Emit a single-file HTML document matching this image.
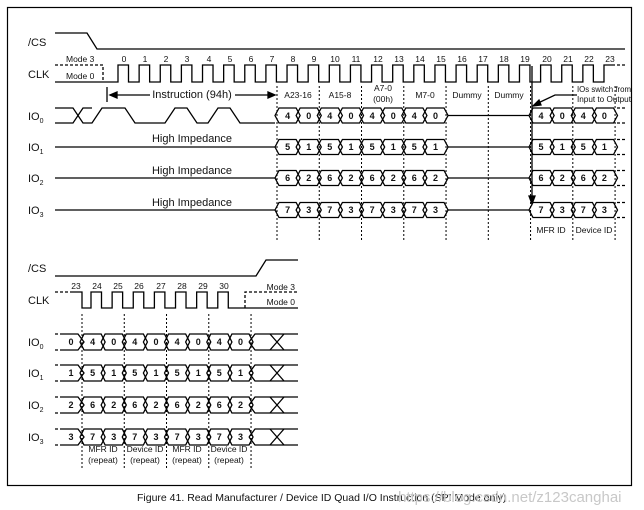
<!DOCTYPE html>
<html><head><meta charset="utf-8"><style>
html,body{margin:0;padding:0;background:#fff;}
svg{display:block;}
text{font-family:"Liberation Sans",Arial,sans-serif;fill:#111;}
.l{font-size:11px;}
.s{font-size:8.5px;}
.d{font-size:9px;font-weight:bold;text-anchor:middle;}
.c{text-anchor:middle;}
</style></head><body>
<svg id="g" width="644" height="510" viewBox="0 0 644 510" xmlns="http://www.w3.org/2000/svg">
<rect x="7.5" y="7.5" width="624" height="478" fill="none" stroke="#000" stroke-width="1.2"/>
<g id="shapes" fill="none" stroke="#000" stroke-width="1.3"></g>
<text class="l" x="28" y="46">/CS</text>
<text class="l" x="28" y="78">CLK</text>
<text class="l" x="28" y="120">IO<tspan font-size="7" dy="3">0</tspan></text>
<text class="l" x="28" y="151">IO<tspan font-size="7" dy="3">1</tspan></text>
<text class="l" x="28" y="182">IO<tspan font-size="7" dy="3">2</tspan></text>
<text class="l" x="28" y="214">IO<tspan font-size="7" dy="3">3</tspan></text>
<text class="s" x="66" y="62">Mode 3</text>
<text class="s" x="66" y="79">Mode 0</text>
<g class="s c">
<text x="124" y="62">0</text><text x="145" y="62">1</text><text x="166" y="62">2</text><text x="187" y="62">3</text><text x="209" y="62">4</text><text x="230" y="62">5</text><text x="251" y="62">6</text><text x="272" y="62">7</text><text x="293" y="62">8</text><text x="314" y="62">9</text><text x="335" y="62">10</text><text x="356" y="62">11</text><text x="378" y="62">12</text><text x="399" y="62">13</text><text x="420" y="62">14</text><text x="441" y="62">15</text><text x="462" y="62">16</text><text x="483" y="62">17</text><text x="504" y="62">18</text><text x="525" y="62">19</text><text x="547" y="62">20</text><text x="568" y="62">21</text><text x="589" y="62">22</text><text x="610" y="62">23</text>
<text x="298" y="98">A23-16</text><text x="340" y="98">A15-8</text><text x="383" y="91">A7-0</text><text x="383" y="102">(00h)</text><text x="425" y="98">M7-0</text><text x="467" y="98">Dummy</text><text x="509" y="98">Dummy</text>
<text x="551" y="233">MFR ID</text><text x="594" y="233">Device ID</text>
</g>
<text x="577" y="92" font-size="8" textLength="54" lengthAdjust="spacingAndGlyphs">IOs switch from</text>
<text x="577" y="102" font-size="8" textLength="54" lengthAdjust="spacingAndGlyphs">Input to Output</text>
<g class="l c" font-size="10">
<text x="192" y="98">Instruction (94h)</text>
<text x="192" y="142">High Impedance</text>
<text x="192" y="174">High Impedance</text>
<text x="192" y="206">High Impedance</text>
</g>
<text class="l" x="28" y="272">/CS</text>
<text class="l" x="28" y="304">CLK</text>
<text class="l" x="28" y="346">IO<tspan font-size="7" dy="3">0</tspan></text>
<text class="l" x="28" y="377">IO<tspan font-size="7" dy="3">1</tspan></text>
<text class="l" x="28" y="409">IO<tspan font-size="7" dy="3">2</tspan></text>
<text class="l" x="28" y="441">IO<tspan font-size="7" dy="3">3</tspan></text>
<text class="s" x="295" y="290" text-anchor="end">Mode 3</text>
<text class="s" x="295" y="305" text-anchor="end">Mode 0</text>
<g class="s c">
<text x="76" y="289">23</text><text x="97" y="289">24</text><text x="118" y="289">25</text><text x="139" y="289">26</text><text x="161" y="289">27</text><text x="182" y="289">28</text><text x="203" y="289">29</text><text x="224" y="289">30</text>
<text x="103" y="452">MFR ID</text><text x="103" y="463">(repeat)</text>
<text x="145" y="452">Device ID</text><text x="145" y="463">(repeat)</text>
<text x="187" y="452">MFR ID</text><text x="187" y="463">(repeat)</text>
<text x="229" y="452">Device ID</text><text x="229" y="463">(repeat)</text>
</g>
<g class="d">
<text x="287.6" y="119">4</text><text x="308.7" y="119">0</text><text x="329.8" y="119">4</text><text x="351" y="119">0</text><text x="372.1" y="119">4</text><text x="393.2" y="119">0</text><text x="414.3" y="119">4</text><text x="435.5" y="119">0</text><text x="541" y="119">4</text><text x="562.2" y="119">0</text><text x="583.3" y="119">4</text><text x="604.4" y="119">0</text>
<text x="287.6" y="150">5</text><text x="308.7" y="150">1</text><text x="329.8" y="150">5</text><text x="351" y="150">1</text><text x="372.1" y="150">5</text><text x="393.2" y="150">1</text><text x="414.3" y="150">5</text><text x="435.5" y="150">1</text><text x="541" y="150">5</text><text x="562.2" y="150">1</text><text x="583.3" y="150">5</text><text x="604.4" y="150">1</text>
<text x="287.6" y="181">6</text><text x="308.7" y="181">2</text><text x="329.8" y="181">6</text><text x="351" y="181">2</text><text x="372.1" y="181">6</text><text x="393.2" y="181">2</text><text x="414.3" y="181">6</text><text x="435.5" y="181">2</text><text x="541" y="181">6</text><text x="562.2" y="181">2</text><text x="583.3" y="181">6</text><text x="604.4" y="181">2</text>
<text x="287.6" y="213">7</text><text x="308.7" y="213">3</text><text x="329.8" y="213">7</text><text x="351" y="213">3</text><text x="372.1" y="213">7</text><text x="393.2" y="213">3</text><text x="414.3" y="213">7</text><text x="435.5" y="213">3</text><text x="541" y="213">7</text><text x="562.2" y="213">3</text><text x="583.3" y="213">7</text><text x="604.4" y="213">3</text>
<text x="71" y="345">0</text><text x="92.6" y="345">4</text><text x="113.7" y="345">0</text><text x="134.8" y="345">4</text><text x="156" y="345">0</text><text x="177.1" y="345">4</text><text x="198.2" y="345">0</text><text x="219.3" y="345">4</text><text x="240.5" y="345">0</text>
<text x="71" y="376">1</text><text x="92.6" y="376">5</text><text x="113.7" y="376">1</text><text x="134.8" y="376">5</text><text x="156" y="376">1</text><text x="177.1" y="376">5</text><text x="198.2" y="376">1</text><text x="219.3" y="376">5</text><text x="240.5" y="376">1</text>
<text x="71" y="408">2</text><text x="92.6" y="408">6</text><text x="113.7" y="408">2</text><text x="134.8" y="408">6</text><text x="156" y="408">2</text><text x="177.1" y="408">6</text><text x="198.2" y="408">2</text><text x="219.3" y="408">6</text><text x="240.5" y="408">2</text>
<text x="71" y="440">3</text><text x="92.6" y="440">7</text><text x="113.7" y="440">3</text><text x="134.8" y="440">7</text><text x="156" y="440">3</text><text x="177.1" y="440">7</text><text x="198.2" y="440">3</text><text x="219.3" y="440">7</text><text x="240.5" y="440">3</text>
</g>
<text x="137" y="501" font-size="10.5">Figure 41. Read Manufacturer / Device ID Quad I/O Instruction (SPI Mode only)</text>
<text x="398" y="502" font-size="15" style="fill:#c8c8c8">https://blog.csdn.net/z123canghai</text>
</svg>
<script>
(function(){
var g=document.getElementById('shapes'),NS='http://www.w3.org/2000/svg',P=21.13;
function p(d,o){var e=document.createElementNS(NS,'path');e.setAttribute('d',d);if(o)for(var k in o)e.setAttribute(k,o[k]);g.appendChild(e);}
var dash={'stroke-dasharray':'3,2'},dot={'stroke-dasharray':'2,2','stroke-width':'1'};
p('M55,33 L87,33 L97,49 L625,49');
var d='M55,82 L118,82';
for(var k=0;k<24;k++){var r=118+P*k;d+=' L'+r+',82 L'+r+',65';if(k<23)d+=' L'+(r+10.5)+',65 L'+(r+10.5)+',82';else d+=' L'+(r+8)+',65';}
p(d);p('M612,65 L625,65',dash);p('M55,65 L103,65 L103,82',dash);
function hex(a,b,yc,h){p('M'+a+','+yc+' L'+(a+4)+','+(yc-h)+' L'+(b-4)+','+(yc-h)+' L'+b+','+yc+' L'+(b-4)+','+(yc+h)+' L'+(a+4)+','+(yc+h)+' Z');}
var rows=[115.5,147,178,210];
rows.forEach(function(y,i){
 for(var k=0;k<8;k++)hex(277+P*k-2,277+P*(k+1)+2,y,7.5);
 for(var k=0;k<4;k++)hex(531+P*k-2,531+P*(k+1)+2,y,7.5);
 p('M448,'+y+' L529,'+y);
 p('M617,'+(y-7.5)+' L625,'+(y-7.5)+' M617,'+(y+7.5)+' L625,'+(y+7.5),dash);
 if(i>0)p('M55,'+y+' L275,'+y);
});
p('M55,108 L73,108 L83,123 L92,123 L102,108 L125,108 L135,123 L165,123 L175,108 L187,108 L197,123 L208,123 L218,108 L230,108 L240,123 L275,123');
p('M55,123 L73,123 L83,108 L92,108');
for(var k=0;k<9;k++){var x=277+2*P*k;p('M'+x+',86 L'+x+',240',dot);}
p('M107,87 L107,102');
p('M110,95 L150,95 M235,95 L272,95');
p('M110,95 L117,92 L117,98 Z',{fill:'#000'});
p('M275,95 L268,92 L268,98 Z',{fill:'#000'});
p('M577,95 L555,95 L536,104');
p('M533,106 L539,100 L541,105 Z',{fill:'#000'});
p('M532,66 L532,198');
p('M532,204 L529,196 L535,196 Z',{fill:'#000'});
p('M55,276 L256,276 L266,260 L298,260');
p('M55,292 L72,292',dash);
d='M72,292 L82,292 L82,308';
for(var k=0;k<7;k++){var r=91+P*k;d+=' L'+r+',308 L'+r+',292 L'+(r+10.5)+',292 L'+(r+10.5)+',308';}
d+=' L298,308';p(d);
p('M245,308 L245,292 L298,292',dash);
var br=[342,373,405,437];
br.forEach(function(y){
 p('M55,'+(y-8)+' L63,'+(y-8)+' M55,'+(y+8)+' L63,'+(y+8),dash);
 p('M63,'+(y-8)+' L78,'+(y-8)+' L84,'+y+' L78,'+(y+8)+' L63,'+(y+8));
 for(var k=0;k<8;k++)hex(82+P*k-2,82+P*(k+1)+2,y,8);
 p('M249,'+y+' L255,'+(y-8)+' L298,'+(y-8)+' M255,'+(y+8)+' L298,'+(y+8)+' L255,'+(y+8)+' L249,'+y);
 p('M270,'+(y-8)+' L284,'+(y+8)+' M270,'+(y+8)+' L284,'+(y-8));
});
for(var k=0;k<5;k++){var x=82+2*P*k;p('M'+x+',314 L'+x+',468',dot);}
})();
</script>
</body></html>
